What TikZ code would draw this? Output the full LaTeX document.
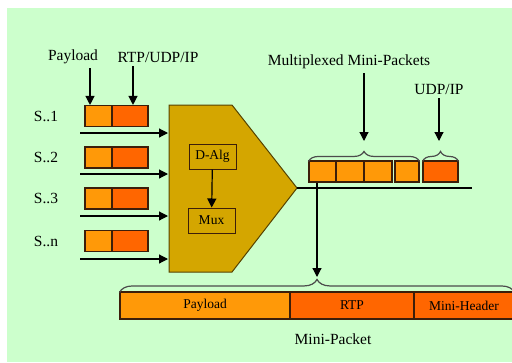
\documentclass[tikz,border=0pt]{standalone}
\usepackage{fontspec}
\setmainfont{Liberation Serif}
\usetikzlibrary{positioning,arrows.meta,decorations.pathreplacing}

\definecolor{bggreen}{RGB}{204,255,204}
\definecolor{lorange}{RGB}{255,153,8}
\definecolor{dorange}{RGB}{255,102,0}
\definecolor{muxgold}{RGB}{212,166,0}
\definecolor{edgebrown}{RGB}{60,30,10}

\tikzset{
  lbl/.style={font=\fontsize{15.5}{18}\selectfont, inner sep=0pt},
  pay/.style={draw=edgebrown, line width=1.1, fill=lorange, inner sep=0pt, minimum height=21},
  hdr/.style={draw=edgebrown, line width=1.1, fill=dorange, inner sep=0pt, minimum height=21},
  inbox/.style={draw=edgebrown, line width=1, inner sep=0pt, minimum width=47, minimum height=25,
    font=\fontsize{13.5}{16}\selectfont},
  arr/.style={line width=1.2, -{Triangle[length=9pt,width=9pt]}},
  brc/.style={line width=1.2, draw=black!70, decorate, decoration={brace, amplitude=10pt}}
}

\begin{document}
\begin{tikzpicture}[x=1pt, y=-1pt]
\useasboundingbox (0,0) rectangle (512,362);
\fill[bggreen] (7,8) rectangle (512,362);

% sources
\node[lbl] (plab) at (73,57) {Payload};
\node[lbl] (rlab) at (158,57) {RTP/UDP/IP};
\foreach \i/\y/\ay/\s in {1/116/133/S..1, 2/157.5/174/S..2, 3/198.5/216/S..3, 4/241/259/S..n}{
  \node[pay, minimum width=27] (p\i) at (98.5,\y) {};
  \node[hdr, minimum width=36] (h\i) at (130,\y) {};
  \node[lbl] (s\i) at (46,\y) {\s};
  \coordinate (in\i) at (80,\ay);
  \draw[arr] (in\i) -- (168,\ay);
}
\draw[arr] (plab.south -| 90,0) ++(0,4) -- (p1.north -| 90,0);
\draw[arr] (rlab.south -| 133,0) ++(0,4) -- (h1.north -| 133,0);

% multiplexer
\draw[fill=muxgold, draw=black!60!muxgold, line width=1]
  (169,105) -- (232,105) -- (297,188) coordinate (muxtip) -- (232,272) -- (169,272) -- cycle;
\node[inbox] (dalg) at (212.5,156.5) {D-Alg};
\node[inbox] (mux) at (211.5,220.5) {Mux};
\draw[arr] (dalg) -- (mux);

% multiplexed mini-packets
\coordinate (lineend) at (472,188);
\draw[line width=1.1] (muxtip) -- (lineend);
\node[pay, minimum width=27] (m1) at (322.5,171.5) {};
\node[pay, minimum width=28] (m2) at (350,171.5) {};
\node[pay, minimum width=28] (m3) at (378,171.5) {};
\node[pay, minimum width=24] (m4) at (407,171.5) {};
\node[hdr, minimum width=35] (udp) at (440.5,171.5) {};
\draw[brc] ([yshift=-1]m1.north west) -- ([yshift=-1]m4.north east);
\draw[brc] ([yshift=-1]udp.north west) -- ([yshift=-1]udp.north east);
\node[lbl] (mlab) at (349,62) {Multiplexed Mini-Packets};
\node[lbl] (ulab) at (439,89) {UDP/IP};
\draw[arr] (mlab.south -| 364,0) ++(0,4) -- (364,141);
\draw[arr] (ulab.south -| 439,0) ++(0,4) -- (439,141);

% mini-packet
\node[pay, minimum width=170, minimum height=27, font=\fontsize{13.5}{16}\selectfont] (bpay) at (205,305.5) {Payload};
\node[hdr, minimum width=124, minimum height=27, font=\fontsize{13.5}{16}\selectfont] (brtp) at (352,305.5) {RTP};
\node[hdr, minimum width=100, minimum height=27, font=\fontsize{13.5}{16}\selectfont] (bmh) at (464,305.5) {Mini-Header};
\draw[brc, decoration={amplitude=13pt}] ([yshift=-1]bpay.north west) -- ([yshift=-1]bmh.north east);
\draw[arr] ([xshift=-5.5]m1.south) -- (317,277);
\node[lbl] (mplab) at (333,339) {Mini-Packet};
\end{tikzpicture}
\end{document}
